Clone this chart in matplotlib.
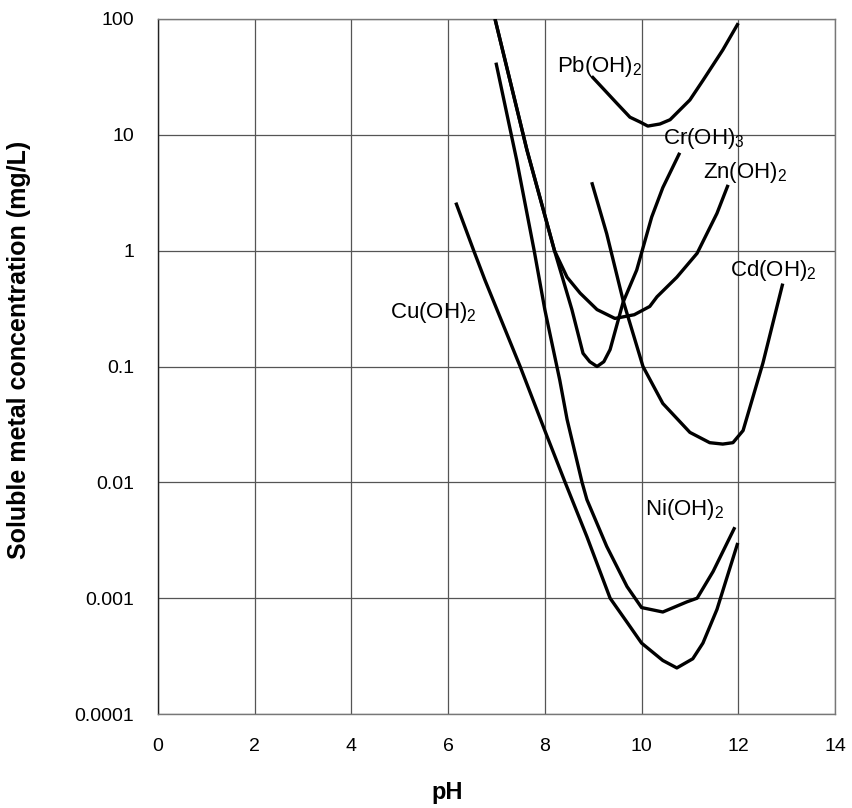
import matplotlib
matplotlib.use('Agg')
import matplotlib.pyplot as plt

# Fontes
plt.rcParams['font.family'] = ['Liberation Sans', 'DejaVu Sans']
plt.rcParams['mathtext.default'] = 'regular'

# Dados (pH, concentração mg/L)
cu_ph = [6.16, 6.53, 6.76, 7.49, 8.0, 8.42, 8.87, 9.35, 9.7, 10.0, 10.44, 10.73, 11.06, 11.27, 11.56, 11.99]
cu_conc = [2.6, 1.0, 0.56, 0.1, 0.028, 0.01, 0.0034, 0.001, 0.00062, 0.00041, 0.00029, 0.00025, 0.0003, 0.00041, 0.0008, 0.003]

ni_ph = [6.99, 7.42, 7.78, 8.0, 8.31, 8.46, 8.77, 8.87, 9.28, 9.7, 10.0, 10.44, 10.94, 11.15, 11.48, 11.93]
ni_conc = [42, 6.0, 1.0, 0.31, 0.076, 0.035, 0.01, 0.0071, 0.0028, 0.00126, 0.00083, 0.00076, 0.00093, 0.001, 0.0017, 0.0041]

cr_ph = [6.97, 7.63, 8.2, 8.56, 8.79, 8.93, 9.08, 9.22, 9.35, 9.62, 9.9, 10.21, 10.44, 10.79]
cr_conc = [100, 7.4, 1.0, 0.31, 0.13, 0.11, 0.10, 0.11, 0.14, 0.36, 0.68, 1.95, 3.5, 7.0]

zn_ph = [6.97, 7.63, 8.2, 8.46, 8.73, 9.08, 9.45, 9.85, 10.17, 10.32, 10.73, 11.15, 11.56, 11.79]
zn_conc = [100, 7.4, 1.0, 0.59, 0.43, 0.31, 0.26, 0.28, 0.33, 0.40, 0.59, 0.95, 2.1, 3.7]

cd_ph = [8.97, 9.28, 9.62, 10.03, 10.44, 11.0, 11.41, 11.68, 11.89, 12.1, 12.51, 12.92]
cd_conc = [3.9, 1.4, 0.37, 0.1, 0.048, 0.027, 0.022, 0.0214, 0.022, 0.028, 0.107, 0.52]

pb_ph = [8.97, 9.49, 9.76, 9.97, 10.13, 10.38, 10.59, 11.0, 11.27, 11.68, 12.0]
pb_conc = [32, 18.7, 14.2, 12.9, 11.9, 12.4, 13.5, 20, 29.5, 54, 92]

y_ticks = [0.0001, 0.001, 0.01, 0.1, 1, 10, 100]
y_labels = ['0.0001', '0.001', '0.01', '0.1', '1', '10', '100']
x_ticks = [0, 2, 4, 6, 8, 10, 12, 14]

# Gráfico
fig = plt.figure(figsize=(8.52, 8.08), dpi=100)
ax = fig.add_axes([0.1854, 0.1163, 0.7946, 0.8602])

for ph, conc in [(cu_ph, cu_conc), (ni_ph, ni_conc), (cr_ph, cr_conc),
                 (zn_ph, zn_conc), (cd_ph, cd_conc), (pb_ph, pb_conc)]:
    ax.plot(ph, conc, color='black', lw=2.4, solid_capstyle='butt', zorder=3)

ax.set_yscale('log')
ax.set_xlim(0, 14)
ax.set_ylim(0.0001, 100)
ax.set_xticks(x_ticks)
ax.set_yticks(y_ticks, y_labels)
ax.minorticks_off()
ax.tick_params(length=0)
ax.tick_params(axis='x', labelsize=14, pad=17)
ax.tick_params(axis='y', labelsize=14, pad=17)
ax.grid(True, color='#555555', lw=0.9)
for s in ax.spines.values():
    s.set_color('#777777')
    s.set_linewidth(1.0)
ax.spines['left'].set_color('#222222')

# Rótulos das curvas
labels = [('Pb(OH)$_2$', 8.25, 39), ('Cr(OH)$_3$', 10.44, 9.3), ('Zn(OH)$_2$', 11.27, 4.7),
          ('Cd(OH)$_2$', 11.83, 0.68), ('Cu(OH)$_2$', 4.8, 0.29), ('Ni(OH)$_2$', 10.07, 0.0058)]
for txt, x, y in labels:
    ax.text(x, y, txt, fontsize=16, va='center', ha='left', zorder=4)

ax.set_xlabel('pH', fontsize=17, fontweight='bold')
ax.xaxis.set_label_coords(0.428, -0.097)
ax.set_ylabel('Soluble metal concentration (mg/L)', fontsize=18, fontweight='bold')
ax.yaxis.set_label_coords(-0.188, 0.524)

plt.savefig('out.png', dpi=100)
